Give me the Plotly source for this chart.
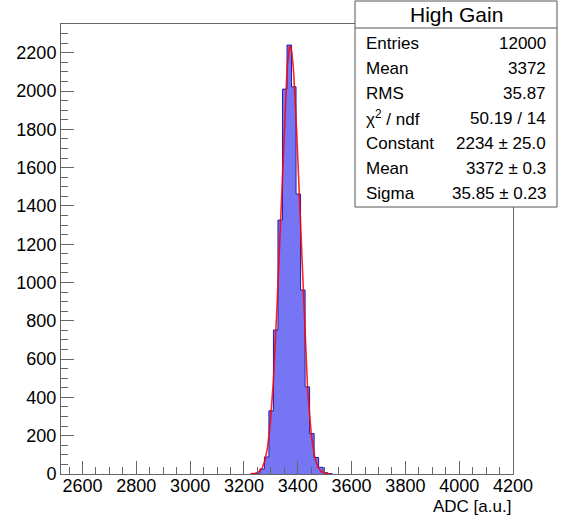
import numpy as np
import plotly.graph_objects as go

# ---- data ----
bin_width = 16.8
first_edge = 3225.6
counts = [1, 5, 26, 89, 330, 752, 1326, 2010, 2240, 2022, 1462, 961, 455, 211, 86, 35, 7, 2]

fit_constant = 2234.0
fit_mean = 3372.0
fit_sigma = 35.85
fit_range = [3225.0, 3520.0]

stats_title = "High Gain"
stats_labels = ["Entries", "Mean", "RMS", "χ<sup>2</sup> / ndf", "Constant", "Mean", "Sigma"]
stats_values = ["12000", "3372", "35.87", "50.19 / 14", "2234 ± 25.0", "3372 ± 0.3", "35.85 ± 0.23"]

x_range = [2520, 4200]
y_range = [0, 2350]
x_title = "ADC [a.u.]"

# ---- layout geometry (pixels) ----
W, H = 564, 519
ml, mr, mt, mb = 61, 51, 24, 45
pw = W - ml - mr
ph = H - mt - mb


def px(xp):
    return (xp - ml) / pw


def py(yp):
    return (H - mb - yp) / ph


FONT = "Liberation Sans, Arial, Helvetica, sans-serif"

edges = [first_edge + i * bin_width for i in range(len(counts) + 1)]
hx = [edges[0]] + edges
hy = [0] + counts + [0]

fx = np.linspace(fit_range[0], fit_range[1], 400)
fy = fit_constant * np.exp(-0.5 * ((fx - fit_mean) / fit_sigma) ** 2)

fig = go.Figure()
fig.add_trace(go.Scatter(
    x=hx, y=hy, mode="lines", line_shape="hv",
    line=dict(color="rgb(30,30,170)", width=1),
    fill="tozeroy", fillcolor="rgb(118,118,245)",
    hoverinfo="skip", showlegend=False,
))
fig.add_trace(go.Scatter(
    x=fx, y=fy, mode="lines",
    line=dict(color="rgba(255,0,0,0.85)", width=1.6),
    hoverinfo="skip", showlegend=False,
))

axis_common = dict(
    showgrid=False, zeroline=False, showline=True, linecolor="#666", linewidth=1,
    mirror=True, ticks="inside", tickcolor="#666", tickwidth=1, ticklen=13,
    tickfont=dict(family=FONT, size=18, color="black"),
)

fig.update_xaxes(range=x_range, dtick=200, tick0=0, ticklabelstandoff=-5,
                 minor=dict(dtick=50, ticks="inside", ticklen=7, tickcolor="#666", showgrid=False),
                 **axis_common)
fig.update_yaxes(range=y_range, dtick=200, tick0=0,
                 minor=dict(dtick=50, ticks="inside", ticklen=7, tickcolor="#666", showgrid=False),
                 **axis_common)

# stats box
box_l, box_r, box_t, box_b, title_sep = 355, 557, 1, 207, 28
shapes = [
    dict(type="rect", xref="paper", yref="paper", x0=px(box_l), x1=px(box_r),
         y0=py(box_b), y1=py(box_t), fillcolor="white", line=dict(color="#555", width=1), layer="above"),
    dict(type="line", xref="paper", yref="paper", x0=px(box_l), x1=px(box_r),
         y0=py(title_sep), y1=py(title_sep), line=dict(color="#555", width=1), layer="above"),
]

annotations = [
    dict(text=stats_title, xref="paper", yref="paper", x=px((box_l + box_r) / 2), y=py(14.5),
         xanchor="center", yanchor="middle", showarrow=False,
         font=dict(family=FONT, size=21, color="black")),
    dict(text=x_title, xref="paper", yref="paper", x=px(513), y=py(506),
         xanchor="right", yanchor="middle", showarrow=False,
         font=dict(family=FONT, size=17, color="black")),
]
for i, (lab, val) in enumerate(zip(stats_labels, stats_values)):
    cy = 43 + 25.1 * i
    annotations.append(dict(text=lab, xref="paper", yref="paper", x=px(364), y=py(cy),
                            xanchor="left", yanchor="middle", showarrow=False,
                            font=dict(family=FONT, size=17, color="black")))
    annotations.append(dict(text=val, xref="paper", yref="paper", x=px(548), y=py(cy),
                            xanchor="right", yanchor="middle", showarrow=False,
                            font=dict(family=FONT, size=17, color="black")))

fig.update_layout(
    width=W, height=H,
    margin=dict(l=ml, r=mr, t=mt, b=mb, pad=0),
    paper_bgcolor="white", plot_bgcolor="white",
    shapes=shapes, annotations=annotations,
    showlegend=False,
)

fig.write_html("out.html")
